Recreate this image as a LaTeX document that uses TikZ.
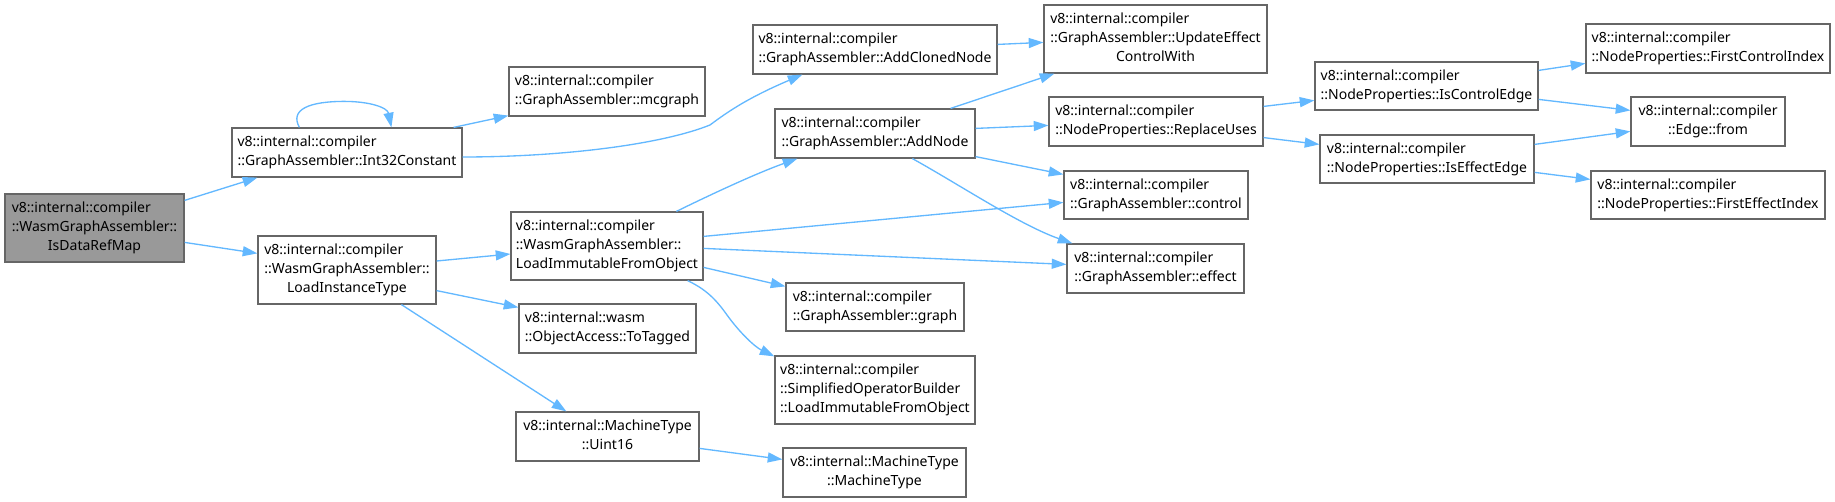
\documentclass[tikz,border=0pt]{standalone}
\usepackage{fontspec}
\setmainfont{Noto Sans}
\usetikzlibrary{arrows.meta,calc}
\definecolor{edgeblue}{HTML}{63B8FF}
\definecolor{boxgray}{HTML}{666666}
\definecolor{rootfill}{HTML}{999999}
\newcommand\Lft[1]{\multicolumn{1}{@{}l@{}}{#1}}
\newcommand\nfont{\fontsize{10.5}{14.25}\selectfont}
\newcommand\bx[7][white]{\node[box, fill=#1, minimum width={(#5-#3)*0.75pt}, minimum height={(#6-#4)*0.75pt}] (#2) at ({(#3+#5)/2},{(#4+#6)/2}) {\begin{tabular}{@{}c@{}}#7\end{tabular}};}
\tikzset{
  box/.style={draw=boxgray, line width=0.9pt, inner sep=0pt, font=\nfont},
  edge/.style={draw=edgeblue, line width=1pt, -{Triangle[length=11pt,width=7.5pt]}}
}
\begin{document}
\begin{tikzpicture}[x=0.75pt,y=-0.75pt]
\useasboundingbox (0,0) rectangle (1835,502);
\bx[rootfill]{dr}{5}{194}{184}{262}{\Lft{v8::internal::compiler}\\\Lft{::WasmGraphAssembler::}\\IsDataRefMap}
\bx{i32}{232}{128}{462}{177}{\Lft{v8::internal::compiler}\\::GraphAssembler::Int32Constant}
\bx{lit}{258}{236}{436}{304}{\Lft{v8::internal::compiler}\\\Lft{::WasmGraphAssembler::}\\LoadInstanceType}
\bx{mcg}{509}{67}{705}{116}{\Lft{v8::internal::compiler}\\::GraphAssembler::mcgraph}
\bx{acn}{753}{25}{997}{74}{\Lft{v8::internal::compiler}\\::GraphAssembler::AddClonedNode}
\bx{an}{775}{109}{975}{158}{\Lft{v8::internal::compiler}\\::GraphAssembler::AddNode}
\bx{lio}{511}{212}{703}{280}{\Lft{v8::internal::compiler}\\\Lft{::WasmGraphAssembler::}\\LoadImmutableFromObject}
\bx{tt}{519}{304}{696}{353}{\Lft{v8::internal::wasm}\\::ObjectAccess::ToTagged}
\bx{u16}{516}{412}{699}{461}{\Lft{v8::internal::MachineType}\\::Uint16}
\bx{gr}{786}{283}{964}{331}{\Lft{v8::internal::compiler}\\::GraphAssembler::graph}
\bx{sob}{775}{356}{975}{424}{\Lft{v8::internal::compiler}\\\Lft{::SimplifiedOperatorBuilder}\\::LoadImmutableFromObject}
\bx{mt}{783}{448}{966}{497}{\Lft{v8::internal::MachineType}\\::MachineType}
\bx{uec}{1044}{5}{1267}{73}{\Lft{v8::internal::compiler}\\\Lft{::GraphAssembler::UpdateEffect}\\ControlWith}
\bx{ru}{1049}{97}{1263}{146}{\Lft{v8::internal::compiler}\\::NodeProperties::ReplaceUses}
\bx{ctl}{1064}{171}{1248}{219}{\Lft{v8::internal::compiler}\\::GraphAssembler::control}
\bx{eff}{1067}{244}{1244}{293}{\Lft{v8::internal::compiler}\\::GraphAssembler::effect}
\bx{ice}{1315}{62}{1538}{110}{\Lft{v8::internal::compiler}\\::NodeProperties::IsControlEdge}
\bx{iee}{1320}{135}{1534}{183}{\Lft{v8::internal::compiler}\\::NodeProperties::IsEffectEdge}
\bx{fci}{1586}{24}{1830}{73}{\Lft{v8::internal::compiler}\\::NodeProperties::FirstControlIndex}
\bx{ef}{1631}{97}{1785}{146}{\Lft{v8::internal::compiler}\\::Edge::from}
\bx{fei}{1591}{171}{1825}{219}{\Lft{v8::internal::compiler}\\::NodeProperties::FirstEffectIndex}
% edges
\draw[edge] ($(dr.north east)+(0,7)$) -- ($(i32.south west)+(26,0)$);
\draw[edge] ($(dr.north east)+(0,49)$) -- ($(lit.north west)+(0,18)$);
\draw[edge] ($(i32.north west)+(68,0)$) .. controls ($(i32.north west)+(58,-18)$) and ($(i32.north west)+(78,-26)$) .. ($(i32.north west)+(113,-26)$) .. controls ($(i32.north west)+(138,-26)$) and ($(i32.north west)+(156,-20)$) .. ($(i32.north west)+(160,0)$);
\draw[edge] ($(i32.north east)+(-9,0)$) -- ($(mcg.south west)+(0,-1)$);
\draw[edge] ($(i32.east)+(0,4.5)$) .. controls (560,157) and (660,145) .. (710,125) .. controls (730,110) and (750,97) .. ($(acn.south west)+(50,0)$);
\draw[edge] ($(lit.east)+(0,-9)$) -- ($(lio.west)+(0,8)$);
\draw[edge] ($(lit.south east)+(0,-14)$) -- ($(tt.north west)+(0,4)$);
\draw[edge] ($(lit.south west)+(144,0)$) -- ($(u16.north west)+(51,0)$);
\draw[edge] ($(lio.north west)+(166,0)$) .. controls (720,190) and (760,172) .. ($(an.south west)+(23,0)$);
\draw[edge] ($(lio.north east)+(0,25)$) -- ($(ctl.north west)+(0,32)$);
\draw[edge] ($(lio.north east)+(0,37)$) -- ($(eff.north west)+(0,21)$);
\draw[edge] ($(lio.north east)+(0,56)$) -- ($(gr.north west)+(0,4)$);
\draw[edge] ($(lio.south east)+(-16,0)$) .. controls (705,289) and (715,298) .. (727,315) .. controls (740,333) and (755,347) .. ($(sob.north west)+(0,1)$);
\draw[edge] ($(an.north east)+(-25,0)$) -- ($(uec.south west)+(11,0)$);
\draw[edge] ($(an.north east)+(0,20)$) -- ($(ru.north west)+(0,29)$);
\draw[edge] ($(an.south east)+(0,-2)$) -- ($(ctl.north west)+(0,4)$);
\draw[edge] ($(an.south west)+(138,0)$) .. controls (960,185) and (1020,225) .. ($(eff.north west)+(6,0)$);
\draw[edge] ($(acn.north east)+(0,20)$) -- ($(uec.north west)+(0,38)$);
\draw[edge] ($(ru.north east)+(0,10)$) -- ($(ice.north west)+(0,39)$);
\draw[edge] ($(ru.south east)+(0,-9)$) -- ($(iee.north west)+(0,10)$);
\draw[edge] ($(ice.north east)+(0,9)$) -- ($(fci.north west)+(0,40)$);
\draw[edge] ($(ice.north east)+(0,38)$) -- ($(ef.north west)+(0,14)$);
\draw[edge] ($(iee.north east)+(0,10)$) -- ($(ef.north west)+(0,35)$);
\draw[edge] ($(iee.north east)+(0,38)$) -- ($(fei.north west)+(0,9)$);
\draw[edge] ($(u16.north east)+(0,37)$) -- ($(mt.north west)+(0,12)$);
\end{tikzpicture}
\end{document}
